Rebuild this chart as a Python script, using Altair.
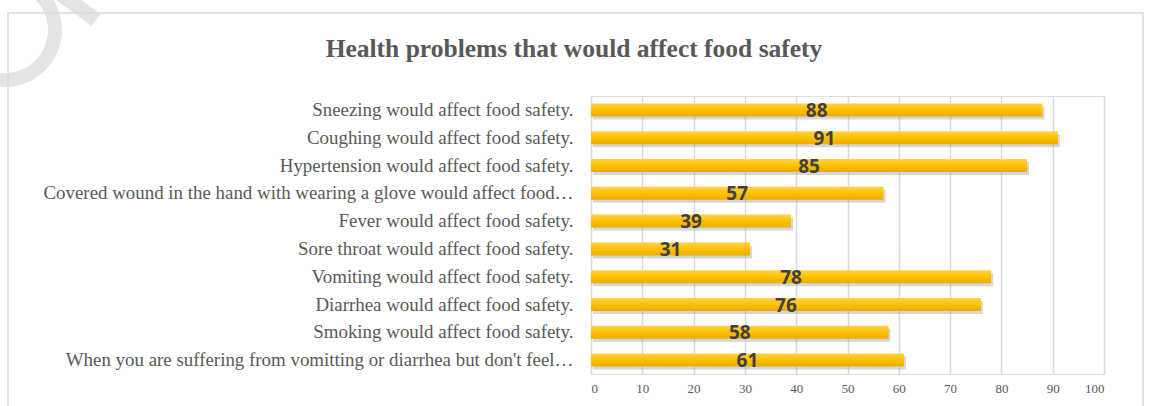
import altair as alt
import pandas as pd

# Survey statements, top to bottom, and percentage agreeing
statements = [
    "Sneezing would affect food safety.",
    "Coughing would affect food safety.",
    "Hypertension would affect food safety.",
    "Covered wound in the hand with wearing a glove would affect food\u2026",
    "Fever would affect food safety.",
    "Sore throat would affect food safety.",
    "Vomiting would affect food safety.",
    "Diarrhea would affect food safety.",
    "Smoking would affect food safety.",
    "When you are suffering from vomitting or diarrhea but don't feel\u2026",
]
percent = [88, 91, 85, 57, 39, 31, 78, 76, 58, 61]
x_ticks = [0, 10, 20, 30, 40, 50, 60, 70, 80, 90, 100]
title_text = "Health problems that would affect food safety"

df = pd.DataFrame({"statement": statements, "percent": percent})

PLOT_W, PLOT_H = 513, 278
LEFT, TOP = 591, 96
TEXT_GREY = "#595959"
MARK_GREY = "#e4e4e4"

y_enc = alt.Y(
    "statement:N",
    sort=None,
    title=None,
    scale=alt.Scale(paddingInner=0, paddingOuter=0),
    axis=alt.Axis(
        labelFont="Liberation Serif",
        labelFontSize=18.9,
        labelColor=TEXT_GREY,
        labelPadding=18,
        labelLimit=700,
        ticks=False,
        domain=False,
        grid=False,
    ),
)
x_enc = alt.X(
    "percent:Q",
    title=None,
    scale=alt.Scale(domain=[0, 100], nice=False),
    axis=alt.Axis(
        values=x_ticks,
        labelFont="Liberation Serif",
        labelFontSize=13,
        labelColor=TEXT_GREY,
        labelPadding=8,
        ticks=False,
        domain=False,
        grid=True,
        gridColor="#d9d9d9",
        gridWidth=1.5,
    ),
)

base = alt.Chart(df)

shadow = base.mark_bar(
    size=13, color="#8c8c8c", opacity=0.35, xOffset=2, yOffset=3
).encode(x=x_enc, y=y_enc)

bars = base.mark_bar(
    size=13,
    color=alt.Gradient(
        gradient="linear",
        x1=0, x2=0, y1=0, y2=1,
        stops=[
            alt.GradientStop(offset=0, color="#FFD24A"),
            alt.GradientStop(offset=0.5, color="#FFC000"),
            alt.GradientStop(offset=1, color="#E8AE00"),
        ],
    ),
).encode(x=x_enc, y=y_enc)

labels = base.transform_calculate(mid="datum.percent / 2").mark_text(
    font="Open Sans",
    fontWeight="bold",
    fontSize=19,
    color="#404040",
    baseline="middle",
    dy=1,
).encode(
    x=alt.X("mid:Q"),
    y=alt.Y("statement:N", sort=None),
    text=alt.Text("percent:Q"),
)

one = pd.DataFrame({"k": [0]})

# outer frame around the whole chart
frame = alt.Chart(one).mark_rect(
    fill="transparent", stroke="#d9d9d9", strokeWidth=1.5
).encode(
    x=alt.value(8 - LEFT), x2=alt.value(1143 - LEFT),
    y=alt.value(13 - TOP), y2=alt.value(430 - TOP),
)

# chart title
title = alt.Chart(one).mark_text(
    text=title_text,
    font="Liberation Serif",
    fontSize=25.5,
    fontWeight="bold",
    color=TEXT_GREY,
    align="center",
    baseline="alphabetic",
).encode(x=alt.value(574 - LEFT), y=alt.value(57 - TOP))

# faint watermark strokes in the top-left corner
wm_arc = alt.Chart(one).mark_arc(color=MARK_GREY).encode(
    x=alt.value(5 - LEFT), y=alt.value(30 - TOP),
    theta=alt.value(0.2), theta2=alt.value(3.5),
    radius=alt.value(57), radius2=alt.value(43),
)
wm_bar = alt.Chart(one).mark_rule(
    color=MARK_GREY, strokeWidth=15, strokeCap="butt"
).encode(
    x=alt.value(58 - LEFT), x2=alt.value(96 - LEFT),
    y=alt.value(-8 - TOP), y2=alt.value(20 - TOP),
)

chart = (
    alt.layer(wm_arc, wm_bar, frame, title, shadow, bars, labels)
    .properties(
        width=PLOT_W,
        height=PLOT_H,
        padding={"left": LEFT, "top": TOP, "right": 61, "bottom": 32},
        autosize=alt.AutoSizeParams(type="none"),
    )
    .configure_view(stroke=None)
    .configure(background="white")
)

chart.save("out.html", embed_options={"renderer": "svg", "actions": False})
